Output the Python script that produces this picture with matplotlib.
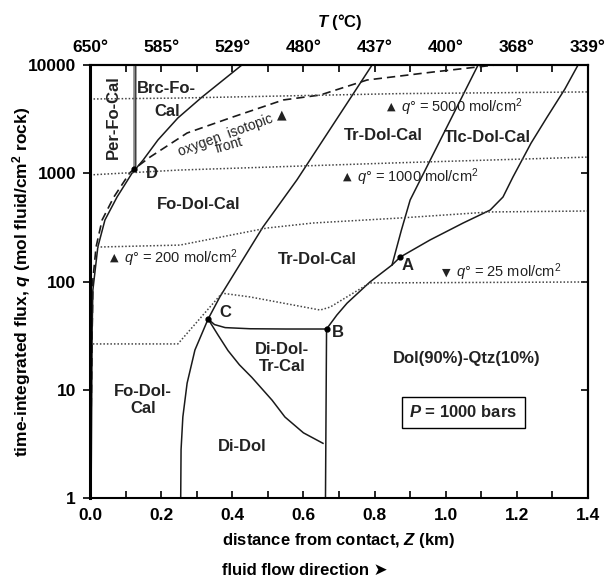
import numpy as np
import matplotlib.pyplot as plt
from matplotlib.ticker import FixedLocator, NullLocator

plt.rcParams['font.family'] = ['Liberation Sans', 'DejaVu Sans']
plt.rcParams['mathtext.fontset'] = 'custom'
plt.rcParams['mathtext.rm'] = 'Liberation Sans'
plt.rcParams['mathtext.it'] = 'Liberation Sans:italic'
plt.rcParams['mathtext.bf'] = 'Liberation Sans:bold'
plt.rcParams['mathtext.bfit'] = 'Liberation Sans:bold:italic'

# reaction fronts (Z in km, q in mol fluid/cm2 rock)
fo_z = [0.003, 0.006, 0.008, 0.022, 0.042, 0.076, 0.118, 0.149, 0.191, 0.247, 0.315, 0.427]
fo_q = [1, 35, 83, 208, 370, 603, 1000, 1320, 2030, 3240, 5060, 10000]

per_z = [0.126, 0.126]
per_q = [1100, 10000]

front_z = [0.002, 0.008, 0.017, 0.034, 0.067, 0.112, 0.125, 0.169, 0.273, 0.402, 0.543, 0.647, 0.779, 0.964, 1.139]
front_q = [3, 103, 208, 370, 603, 1010, 1100, 1413, 2354, 3313, 4750, 5280, 7270, 8610, 10000]

di_z = [0.255, 0.256, 0.261, 0.273, 0.295, 0.332, 0.365, 0.486, 0.582, 0.793]
di_q = [1, 2.8, 5.6, 11.5, 23.3, 45, 72, 318, 871, 10000]

cb_z = [0.332, 0.35, 0.38, 0.45, 0.55, 0.665]
cb_q = [45, 40, 37.5, 36.6, 36.4, 36.4]

cl_z = [0.332, 0.36, 0.388, 0.42, 0.455, 0.512, 0.548, 0.60, 0.655]
cl_q = [45, 32, 23, 17, 13, 8, 5.6, 4.0, 3.2]

vb_z = [0.662, 0.665]
vb_q = [1, 36.4]

ba_z = [0.665, 0.694, 0.7225, 0.787, 0.849, 0.872]
ba_q = [36.4, 49, 63, 99, 142, 168]

at_z = [0.872, 0.956, 1.049, 1.125, 1.161, 1.189, 1.24, 1.285, 1.335, 1.372]
at_q = [168, 242, 347, 457, 603, 923, 1900, 3300, 6000, 10000]

up_z = [0.849, 0.875, 0.90, 1.091]
up_q = [142, 295, 566, 10000]

# q-zero contours (dotted)
c5000_z = [0.0, 0.25, 0.87, 1.4]
c5000_q = [4850, 4950, 5440, 5640]
c1000_z = [0.0, 0.25, 0.87, 1.4]
c1000_q = [965, 1070, 1250, 1410]
c200_z = [0.02, 0.253, 0.498, 0.627, 0.872, 1.125, 1.4]
c200_q = [208, 217, 312, 347, 386, 439, 448]
c25_z = [0.008, 0.247, 0.371, 0.45, 0.647, 0.675, 0.787, 1.4]
c25_q = [26.5, 26.5, 78, 72, 54.5, 58, 97, 99]

points = {'A': (0.872, 168), 'B': (0.665, 36.4), 'C': (0.332, 45), 'D': (0.125, 1100)}

x_ticks = [0.0, 0.2, 0.4, 0.6, 0.8, 1.0, 1.2, 1.4]
t_labels = ['650°', '585°', '529°', '480°', '437°', '400°', '368°', '339°']
y_ticks = [1, 10, 100, 1000, 10000]

fig = plt.figure(figsize=(6.11, 5.78), dpi=100)
ax = fig.add_axes([90 / 611, 80 / 578, 498 / 611, 433 / 578])
ax.set_yscale('log')
ax.set_xlim(0, 1.4)
ax.set_ylim(1, 10000)

lc = '#1a1a1a'
for z, q in [(fo_z, fo_q), (di_z, di_q), (cb_z, cb_q), (cl_z, cl_q), (vb_z, vb_q),
             (ba_z, ba_q), (at_z, at_q), (up_z, up_q)]:
    ax.plot(z, q, color=lc, lw=1.1)
ax.plot(per_z, per_q, color='#888888', lw=2.6)
ax.plot(per_z, per_q, color='#333333', lw=0.6)
ax.plot(front_z, front_q, color=lc, lw=1.2, dashes=(5, 3))
for z, q in [(c5000_z, c5000_q), (c1000_z, c1000_q), (c200_z, c200_q), (c25_z, c25_q)]:
    ax.plot(z, q, color='#444444', lw=1.1, dashes=(1, 1.3))

for name, (z, q) in points.items():
    ax.plot(z, q, 'o', color='black', ms=3.5)

bold = dict(fontsize=12, fontweight='bold', color='#222222', ha='center', va='center')
ax.text(0.065, 3300, 'Per-Fo-Cal', rotation=90, **bold)
ax.text(0.216, 4750, 'Brc-Fo-\nCal', linespacing=1.6, **bold)
ax.text(0.304, 509, 'Fo-Dol-Cal', **bold)
ax.text(0.824, 2256, 'Tr-Dol-Cal', **bold)
ax.text(1.116, 2160, 'Tlc-Dol-Cal', **bold)
ax.text(0.638, 158, 'Tr-Dol-Cal', **bold)
ax.text(0.54, 19.6, 'Di-Dol-\nTr-Cal', linespacing=1.2, **bold)
ax.text(1.06, 19.6, 'Dol(90%)-Qtz(10%)', **bold)
ax.text(0.149, 8.0, 'Fo-Dol-\nCal', linespacing=1.2, **bold)
ax.text(0.427, 2.96, 'Di-Dol', **bold)
ax.text(0.174, 1000, 'D', **bold)
ax.text(0.38, 52, 'C', **bold)
ax.text(0.697, 34, 'B', **bold)
ax.text(0.894, 142, 'A', **bold)

ax.text(1.05, 6.2, r'$\mathbfit{P}$ = 1000 bars', fontsize=12, fontweight='bold', color='#222222',
        ha='center', va='center',
        bbox=dict(boxstyle='square,pad=0.45', fc='white', ec='black', lw=1))

ax.text(0.38, 2255, 'oxygen  isotopic', rotation=20, fontsize=10, color='#222222',
        ha='center', va='center')
ax.text(0.39, 1820, 'front', rotation=16, fontsize=10, color='#222222', ha='center', va='center')
ax.text(0.54, 3450, '▲', family='DejaVu Sans', fontsize=9, color='#222222', ha='center', va='center')

def qlabel(z, q, arrow, text):
    ax.text(z, q, arrow, family='DejaVu Sans', fontsize=8, color='#222222', ha='left', va='center')
    ax.annotate(text, xy=(z, q), xytext=(10, 0), textcoords='offset points',
                fontsize=10.5, color='#222222', ha='left', va='center')

qlabel(0.835, 4090, '▲', r'$q$° = 5000 mol/cm$^2$')
qlabel(0.711, 923, '▲', r'$q$° = 1000 mol/cm$^2$')
qlabel(0.056, 165, '▲', r'$q$° = 200 mol/cm$^2$')
qlabel(0.99, 122, '▼', r'$q$° = 25 mol/cm$^2$')

# axes styling
for s in ax.spines.values():
    s.set_linewidth(1.5)
ax.spines['left'].set_linewidth(2.2)
ax.xaxis.set_major_locator(FixedLocator(x_ticks))
ax.xaxis.set_minor_locator(FixedLocator(np.arange(0.1, 1.4, 0.2)))
ax.set_xticklabels([f'{v:.1f}' for v in x_ticks])
ax.tick_params(axis='x', which='both', direction='in', length=5, width=1.2,
               labelsize=12.5, pad=7)
ax.yaxis.set_major_locator(FixedLocator(y_ticks))
ax.yaxis.set_minor_locator(NullLocator())
ax.set_yticklabels([str(v) for v in y_ticks])
ax.tick_params(axis='y', which='major', direction='out', length=5, width=1.2,
               labelsize=12.5, pad=5)
for lab in ax.get_xticklabels() + ax.get_yticklabels():
    lab.set_fontweight('bold')

right = ax.secondary_yaxis('right')
right.yaxis.set_major_locator(FixedLocator(y_ticks))
right.yaxis.set_minor_locator(NullLocator())
right.tick_params(which='major', direction='in', length=5, width=1.2, labelright=False)
right.spines['right'].set_linewidth(1.5)

top = ax.secondary_xaxis('top')
top.xaxis.set_major_locator(FixedLocator(x_ticks))
top.xaxis.set_minor_locator(FixedLocator(np.arange(0.1, 1.4, 0.2)))
top.set_xticklabels(t_labels, fontweight='bold')
top.tick_params(which='both', direction='in', length=5, width=1.2, labelsize=12.5, pad=7)
top.spines['top'].set_linewidth(1.5)

ax.set_xlabel('distance from contact, $\\mathbfit{Z}$ (km)', fontsize=12, fontweight='bold', labelpad=6)
fig.text(305 / 611, 1 - 570 / 578, 'fluid flow direction ➤', fontsize=12, fontweight='bold',
         ha='center', va='center')
fig.text(22 / 611, 1 - 282 / 578,
         'time-integrated flux, $\\mathbfit{q}$ (mol fluid/cm$^{\\mathbf{2}}$ rock)',
         rotation=90, fontsize=12.5, fontweight='bold', ha='center', va='center')
fig.text(340 / 611, 1 - 22 / 578, r'$\mathbfit{T}$ (°C)', fontsize=12, fontweight='bold',
         ha='center', va='center')

fig.savefig('out.png', dpi=100)
